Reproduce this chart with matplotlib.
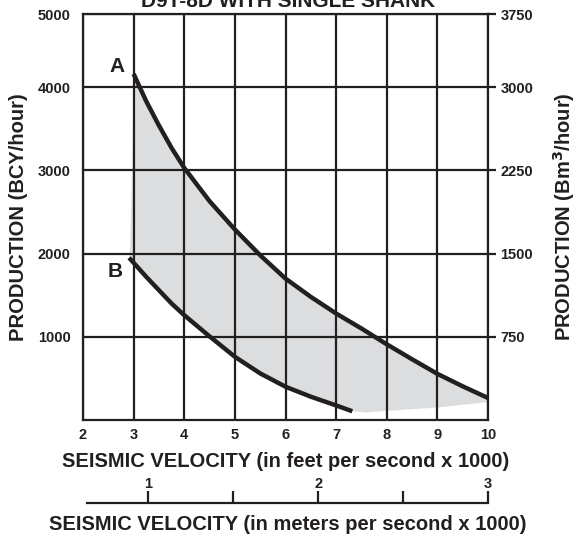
import matplotlib
matplotlib.use("Agg")
import matplotlib.pyplot as plt

plt.rcParams['font.family'] = ['Liberation Sans', 'DejaVu Sans']
plt.rcParams['font.weight'] = 'bold'
plt.rcParams['axes.labelweight'] = 'bold'

# --- Datos ---
titulo = "D9T-8D WITH SINGLE SHANK"

# curva A (limite superior)
a_ft = [3.0, 3.25, 3.5, 3.75, 4.0, 4.5, 5.0, 5.5, 6.0, 6.5, 7.0, 7.5, 8.0, 8.5, 9.0, 9.5, 10.0]
a_bcy = [4160, 3830, 3540, 3270, 3030, 2630, 2290, 1980, 1700, 1480, 1280, 1100, 910, 730, 555, 405, 265]

# curva B (limite inferior)
b_ft = [2.91, 3.0, 3.25, 3.5, 3.75, 4.0, 4.5, 5.0, 5.5, 6.0, 6.5, 7.0, 7.32]
b_bcy = [1950, 1890, 1720, 1560, 1400, 1260, 1005, 760, 560, 400, 280, 175, 105]

# borde izquierdo y cola inferior de la zona sombreada
sombra_izq_ft = [2.93, 2.97]
sombra_izq_bcy = [2050, 3000]
sombra_cola_ft = [7.6, 8.0, 9.0, 10.0]
sombra_cola_bcy = [90, 110, 150, 215]

ft_ticks = [2, 3, 4, 5, 6, 7, 8, 9, 10]
bcy_ticks = [1000, 2000, 3000, 4000]
bcy_top = 4880          # borde superior dibujado, rotulado 5000
bcy_top_label = "5000"
bm3_labels = ["750", "1500", "2250", "3000", "3750"]
m_ticks = [1, 1.5, 2, 2.5, 3]
m_labels = ["1", "", "2", "", "3"]

INK = "#231f20"
W, H = 576, 543
fig = plt.figure(figsize=(W / 100, H / 100), dpi=100)

# --- Ejes principales ---
x0, x1, ytop, ybot = 83, 488, 14, 420
ax = fig.add_axes([x0 / W, 1 - ybot / H, (x1 - x0) / W, (ybot - ytop) / H])
ax.set_xlim(2, 10)
ax.set_ylim(0, bcy_top)

# zona sombreada
px = sombra_izq_ft[::-1] + b_ft + sombra_cola_ft + a_ft[::-1]
py = sombra_izq_bcy[::-1] + b_bcy + sombra_cola_bcy + a_bcy[::-1]
ax.fill(px, py, color="#dcdddf", lw=0, zorder=1)

ax.plot(a_ft, a_bcy, color=INK, lw=3.2, solid_capstyle="butt",
        solid_joinstyle="round", zorder=3)
ax.plot(b_ft, b_bcy, color=INK, lw=3.2, solid_capstyle="butt",
        solid_joinstyle="round", zorder=3)
ax.text(2.68, 4250, "A", fontsize=15, ha="center", va="center", color=INK)
ax.text(2.63, 1780, "B", fontsize=15, ha="center", va="center", color=INK)

ax.set_xticks(ft_ticks)
ax.set_xticklabels([str(t) for t in ft_ticks])
ax.set_yticks(bcy_ticks + [bcy_top])
ax.set_yticklabels([str(t) for t in bcy_ticks] + [bcy_top_label])
ax.tick_params(axis="both", length=0, labelsize=10.5, labelcolor=INK)
ax.tick_params(axis="x", pad=6)
ax.tick_params(axis="y", pad=9)
ax.grid(True, color=INK, lw=1.6, zorder=2)
ax.set_axisbelow(False)
for s in ax.spines.values():
    s.set_linewidth(1.6)
    s.set_color(INK)

ax.set_xlabel("SEISMIC VELOCITY (in feet per second x 1000)", fontsize=14.5,
              labelpad=7, color=INK)
ax.set_ylabel("PRODUCTION (BCY/hour)", fontsize=14.5, labelpad=7, color=INK)

# eje derecho (Bm3/hour)
ax_r = ax.twinx()
ax_r.set_ylim(ax.get_ylim())
ax_r.set_yticks(bcy_ticks + [bcy_top])
ax_r.set_yticklabels(bm3_labels)
ax_r.tick_params(axis="y", length=6, width=1.6, color=INK, labelsize=10.5,
                 labelcolor=INK, pad=3)
for s in ax_r.spines.values():
    s.set_visible(False)
ax_r.set_ylabel("PRODUCTION (Bm$^\\mathbf{3}$/hour)", fontsize=14.5, labelpad=13,
                color=INK)

# --- Eje en metros ---
mx0, mx1, my = 87, 488, 503
ax_m = fig.add_axes([mx0 / W, 1 - my / H - 0.001, (mx1 - mx0) / W, 0.001])
ax_m.set_xlim(0.64, 3.0)
ax_m.set_yticks([])
for k in ["left", "right", "bottom"]:
    ax_m.spines[k].set_visible(False)
ax_m.spines["top"].set_linewidth(1.6)
ax_m.spines["top"].set_color(INK)
ax_m.xaxis.tick_top()
ax_m.set_xticks(m_ticks)
ax_m.set_xticklabels(m_labels)
ax_m.tick_params(axis="x", direction="out", length=9, width=1.6,
                 color=INK, labelsize=10.5, labelcolor=INK, pad=0)
ax_m.set_xlabel("SEISMIC VELOCITY (in meters per second x 1000)", fontsize=14.5,
                labelpad=8, color=INK)

fig.text(0.5, 1 - 7 / H, titulo, ha="center", va="baseline", fontsize=15,
         color=INK)

fig.savefig("out.png", dpi=100)
